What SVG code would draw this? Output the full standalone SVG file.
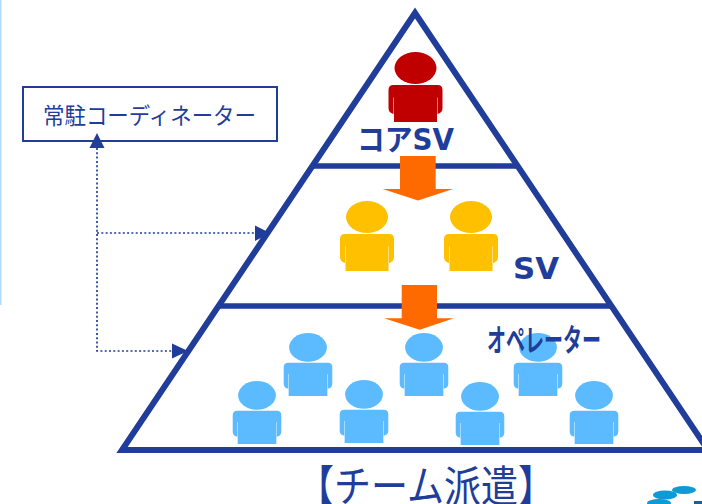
<svg xmlns="http://www.w3.org/2000/svg" width="702" height="504" viewBox="0 0 702 504">
<style>
.lbl{font-family:"Noto Sans CJK JP","Noto Sans",sans-serif;fill:#1f3d99}
.b{font-family:"DejaVu Sans","Noto Sans CJK JP",sans-serif;font-weight:700;fill:#1f3d99}
.ln{stroke:#1f3d99;fill:none}
.dot{stroke:#1f3d99;stroke-width:1.700;stroke-dasharray:2 2.300;fill:none}
</style>
<defs>
<g id="p">
<ellipse cx="0" cy="16" rx="21" ry="16"/>
<path d="M-22 33H22Q27 33 27 38V56Q27 60 23.500 61.500L22 62V45.500H21.500V70H-21.500V45.500H-22V62L-23.500 61.500Q-27 60 -27 56V38Q-27 33 -22 33Z"/>
</g>
</defs>
<rect x="0" y="0" width="1.500" height="305" fill="#b3dcff"/>
<g id="pyramid">
<path class="ln" stroke-width="6" stroke-linejoin="miter" d="M415 13L122 450H708Z"/>
<path class="ln" stroke-width="5.500" d="M312 166H516M217 306H611"/>
</g>
<g id="coordinator">
<rect x="23" y="87" width="254" height="54" fill="#fff" stroke="#1f3d99" stroke-width="2"/>
<text class="lbl" x="43" y="124" font-size="23" font-weight="400" textLength="213" lengthAdjust="spacingAndGlyphs">常駐コーディネーター</text>
</g>
<g id="connectors">
<path class="dot" d="M97 148V351H172M97 233H255"/>
<path fill="#1f3d99" d="M97 133L104.500 148H89.500Z"/>
<path fill="#1f3d99" d="M270 233L255 225.500V241Z"/>
<path fill="#1f3d99" d="M188 351L172 343.500V358.500Z"/>
</g>
<g id="core">
<use href="#p" transform="translate(415.500 52)" fill="#c00000"/>
<text class="b" x="357" y="150" font-size="30" textLength="97" lengthAdjust="spacingAndGlyphs">コアSV</text>
</g>
<path id="arrow1" fill="#ff6a00" d="M400 156H435.700V189L453 189L418 200.500L382.700 189H400Z"/>
<g id="sv">
<use href="#p" transform="translate(367 201)" fill="#ffc000"/>
<use href="#p" transform="translate(471 201)" fill="#ffc000"/>
<text class="b" x="513" y="279" font-size="30" textLength="46" lengthAdjust="spacingAndGlyphs">SV</text>
</g>
<path id="arrow2" fill="#ff6a00" d="M401.700 285H437V318.300H454L419.700 329.700L384 318.300H401.700Z"/>
<g id="operators" fill="#5cbbff">
<use href="#p" transform="translate(308 333) scale(.9)"/>
<use href="#p" transform="translate(424 333) scale(.9)"/>
<use href="#p" transform="translate(538 333) scale(.9)"/>
<use href="#p" transform="translate(257 381) scale(.9)"/>
<use href="#p" transform="translate(364 380) scale(.9)"/>
<use href="#p" transform="translate(480 382) scale(.9)"/>
<use href="#p" transform="translate(594 381) scale(.9)"/>
<text class="b" x="487" y="351" font-size="31" textLength="114" lengthAdjust="spacingAndGlyphs">オペレーター</text>
</g>
<text id="title" class="lbl" x="297" y="502" font-size="43" textLength="258" lengthAdjust="spacingAndGlyphs">【チーム派遣】</text>
<g id="logo" fill="#0f9ad6">
<ellipse cx="684" cy="490" rx="12" ry="4"/>
<ellipse cx="665" cy="495" rx="12" ry="4.500"/>
<ellipse cx="659" cy="503" rx="12" ry="4"/>
<rect x="694" y="501" width="8" height="3" fill="#1f5f8f"/>
</g>
</svg>
